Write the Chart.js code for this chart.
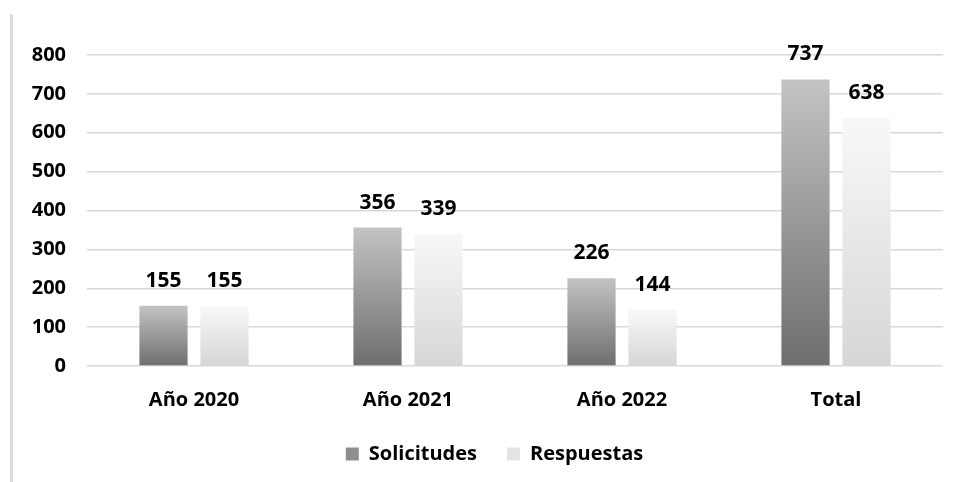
<!DOCTYPE html>
<html>
<head>
<meta charset="utf-8">
<script src="https://cdn.jsdelivr.net/npm/chart.js@4.4.0/dist/chart.umd.min.js"></script>
<style>
  html, body { margin: 0; padding: 0; background: #ffffff; }
  #wrap { position: relative; width: 957px; height: 482px; }
  #edge { position: absolute; left: 10px; top: 14px; width: 3px; height: 468px; background: #dcdcdc; }
  canvas { position: absolute; left: 0; top: 0; }
</style>
</head>
<body>
<div id="wrap">
  <div id="edge"></div>
  <canvas id="c" width="957" height="482"></canvas>
</div>
<script>
const categories = ['Año 2020', 'Año 2021', 'Año 2022', 'Total'];
const solicitudes = [155, 356, 226, 737];
const respuestas = [155, 339, 144, 638];
const seriesNames = ['Solicitudes', 'Respuestas'];
const yTicks = [0, 100, 200, 300, 400, 500, 600, 700, 800];

const FONT = "'Open Sans', 'Noto Sans', sans-serif";

function barGradient(bottom, top, fallback) {
  return function (ctx) {
    const chart = ctx.chart;
    if (ctx.type !== 'data' || !chart.chartArea) return fallback;
    const y = chart.scales.y;
    const pTop = y.getPixelForValue(ctx.raw);
    const pBase = y.getPixelForValue(0);
    const g = chart.ctx.createLinearGradient(0, pBase, 0, pTop);
    g.addColorStop(0, bottom);
    g.addColorStop(1, top);
    return g;
  };
}

const valueLabels = {
  id: 'valueLabels',
  afterDatasetsDraw(chart) {
    const c = chart.ctx;
    c.save();
    c.font = "700 21px " + FONT;
    c.fillStyle = '#000000';
    c.textAlign = 'center';
    c.textBaseline = 'middle';
    chart.data.datasets.forEach((ds, i) => {
      chart.getDatasetMeta(i).data.forEach((bar, j) => {
        c.fillText(String(ds.data[j]), bar.x, bar.y - 25);
      });
    });
    c.restore();
  }
};

const legendShift = {
  id: 'legendShift',
  afterLayout(chart) {
    if (chart.legend) {
      chart.legend.left += 23;
      chart.legend.right += 23;
    }
  }
};

new Chart(document.getElementById('c'), {
  type: 'bar',
  data: {
    labels: categories,
    datasets: [
      {
        label: seriesNames[0],
        data: solicitudes,
        backgroundColor: barGradient('#6e6e6e', '#c3c3c3', '#999999'),
        borderWidth: 0,
        categoryPercentage: 0.57,
        barPercentage: 0.79
      },
      {
        label: seriesNames[1],
        data: respuestas,
        backgroundColor: barGradient('#d6d6d6', '#f8f8f8', '#e6e6e6'),
        borderWidth: 0,
        categoryPercentage: 0.57,
        barPercentage: 0.79
      }
    ]
  },
  options: {
    responsive: false,
    animation: false,
    events: [],
    layout: { padding: { left: 0, right: 14, top: 55, bottom: 8 } },
    scales: {
      x: {
        grid: { display: false },
        border: { display: false },
        ticks: {
          color: '#000000',
          font: { family: FONT, size: 20, weight: '700' },
          padding: 14
        },
        afterFit(scale) { scale.height = 48; }
      },
      y: {
        min: 0,
        max: 800,
        afterBuildTicks(scale) { scale.ticks = yTicks.map(v => ({ value: v })); },
        grid: { color: '#d9d9d9', lineWidth: 1.5, drawTicks: false },
        border: { display: false },
        ticks: {
          color: '#000000',
          font: { family: FONT, size: 20, weight: '700' },
          padding: 21
        },
        afterFit(scale) { scale.width = 87; }
      }
    },
    plugins: {
      legend: {
        position: 'bottom',
        labels: {
          color: '#000000',
          font: { family: FONT, size: 20, weight: '700' },
          boxWidth: 13,
          boxHeight: 13,
          padding: 30,
          generateLabels(chart) {
            const fills = ['#8e8e8e', '#e4e4e4'];
            return chart.data.datasets.map((ds, i) => ({
              text: ds.label,
              fillStyle: fills[i],
              strokeStyle: fills[i],
              lineWidth: 0,
              fontColor: '#000000',
              datasetIndex: i,
              hidden: false
            }));
          }
        }
      },
      tooltip: { enabled: false }
    }
  },
  plugins: [valueLabels, legendShift]
});
</script>
</body>
</html>
